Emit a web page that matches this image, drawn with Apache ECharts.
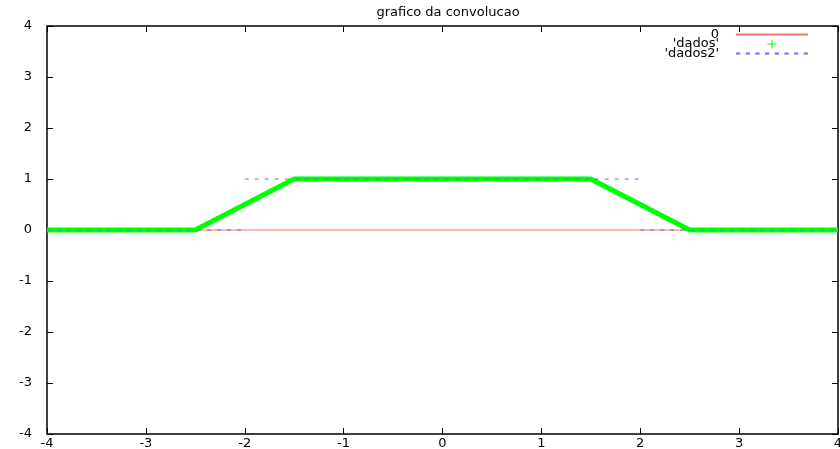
<!DOCTYPE html>
<html>
<head>
<meta charset="utf-8">
<script src="https://cdn.jsdelivr.net/npm/echarts@6/dist/echarts.min.js"></script>
<style>
  html, body { margin: 0; padding: 0; background: #fff; }
  #chart { width: 840px; height: 449px; }
</style>
</head>
<body>
<div id="chart"></div>
<script>
// dados: convolucao (trapezio)
var dadosX = [-4, -2.5, -1.5, 1.5, 2.5, 4]
var dadosY = [0, 0, 1, 1, 0, 0]
// dados2: pulso retangular (sem ligacao vertical)
var dados2X = [-4, -2, null, -2, 2, null, 2, 4]
var dados2Y = [0, 0, null, 1, 1, null, 0, 0]
// linha y = 0
var zeroX = [-4, 4]
var zeroY = [0, 0]
var ticks = [-4, -3, -2, -1, 0, 1, 2, 3, 4]

function pares(xs, ys) {
  return xs.map(function (x, i) { return x === null ? null : [x, ys[i]] })
}

var chart = echarts.init(document.getElementById('chart'))
var font = 'DejaVu Sans, sans-serif'

var axisCommon = {
  type: 'value',
  min: ticks[0],
  max: ticks[ticks.length - 1],
  interval: 1,
  splitLine: { show: false },
  axisLine: { show: false, onZero: false },
  axisTick: { show: true, inside: true, length: 6, lineStyle: { color: '#000' } }
}

// traços do icone da legenda 'dados2'
var dash = ''
for (var i = 0; i < 72; i += 9) dash += 'M' + i + ',0 L' + (i + 4) + ',0 L' + (i + 4) + ',2 L' + i + ',2 Z '

var option = {
  animation: false,
  backgroundColor: '#fff',
  title: {
    text: 'grafico da convolucao',
    left: 443,
    textAlign: 'center',
    top: 1,
    textStyle: { fontFamily: font, fontSize: 13, fontWeight: 'normal', color: '#000' }
  },
  legend: {
    orient: 'vertical',
    right: 27,
    top: 23,
    itemGap: -3.5,
    itemWidth: 72,
    itemHeight: 9,
    align: 'right',
    textStyle: { fontFamily: font, fontSize: 13, color: '#000', width: 90, align: 'right', padding: [0, 12, 0, 0] },
    data: [
      { name: '0', icon: 'path://M0,0 L72,0 L72,2 L0,2 Z', itemStyle: { color: '#ff7070' } },
      { name: "'dados'", icon: 'path://M4,0 L5,0 L5,4 L9,4 L9,5 L5,5 L5,9 L4,9 L4,5 L0,5 L0,4 L4,4 Z', itemStyle: { color: '#00ff00' } },
      { name: "'dados2'", icon: 'path://' + dash, itemStyle: { color: '#7070ff' } }
    ]
  },
  grid: {
    left: 47, right: 2, top: 26, bottom: 15,
    outerBoundsMode: 'none',
    containLabel: false,
    show: true, borderColor: '#000', borderWidth: 1.5, backgroundColor: '#fff'
  },
  xAxis: [
    Object.assign({}, axisCommon, {
      position: 'bottom',
      axisLabel: { fontFamily: font, fontSize: 13, color: '#000', margin: 3 }
    }),
    Object.assign({}, axisCommon, { position: 'top', axisLabel: { show: false } })
  ],
  yAxis: [
    Object.assign({}, axisCommon, {
      position: 'left',
      axisLabel: { fontFamily: font, fontSize: 13, color: '#000', margin: 15 }
    }),
    Object.assign({}, axisCommon, { position: 'right', axisLabel: { show: false } })
  ],
  series: [
    {
      name: '0',
      type: 'line',
      data: pares(zeroX, zeroY),
      symbol: 'none',
      color: '#ff9c9c',
      lineStyle: { width: 1.4, color: '#ff9c9c' }
    },
    {
      name: "'dados'",
      type: 'line',
      data: pares(dadosX, dadosY),
      symbol: 'none',
      color: '#00ff00',
      lineStyle: { width: 5, color: '#00ff00', join: 'miter' }
    },
    {
      name: "'dados2'",
      type: 'line',
      data: pares(dados2X, dados2Y),
      symbol: 'none',
      connectNulls: false,
      color: '#7070f0',
      lineStyle: { width: 1.2, color: '#7070e0', type: [4, 6] }
    }
  ]
}

chart.setOption(option)
</script>
</body>
</html>
